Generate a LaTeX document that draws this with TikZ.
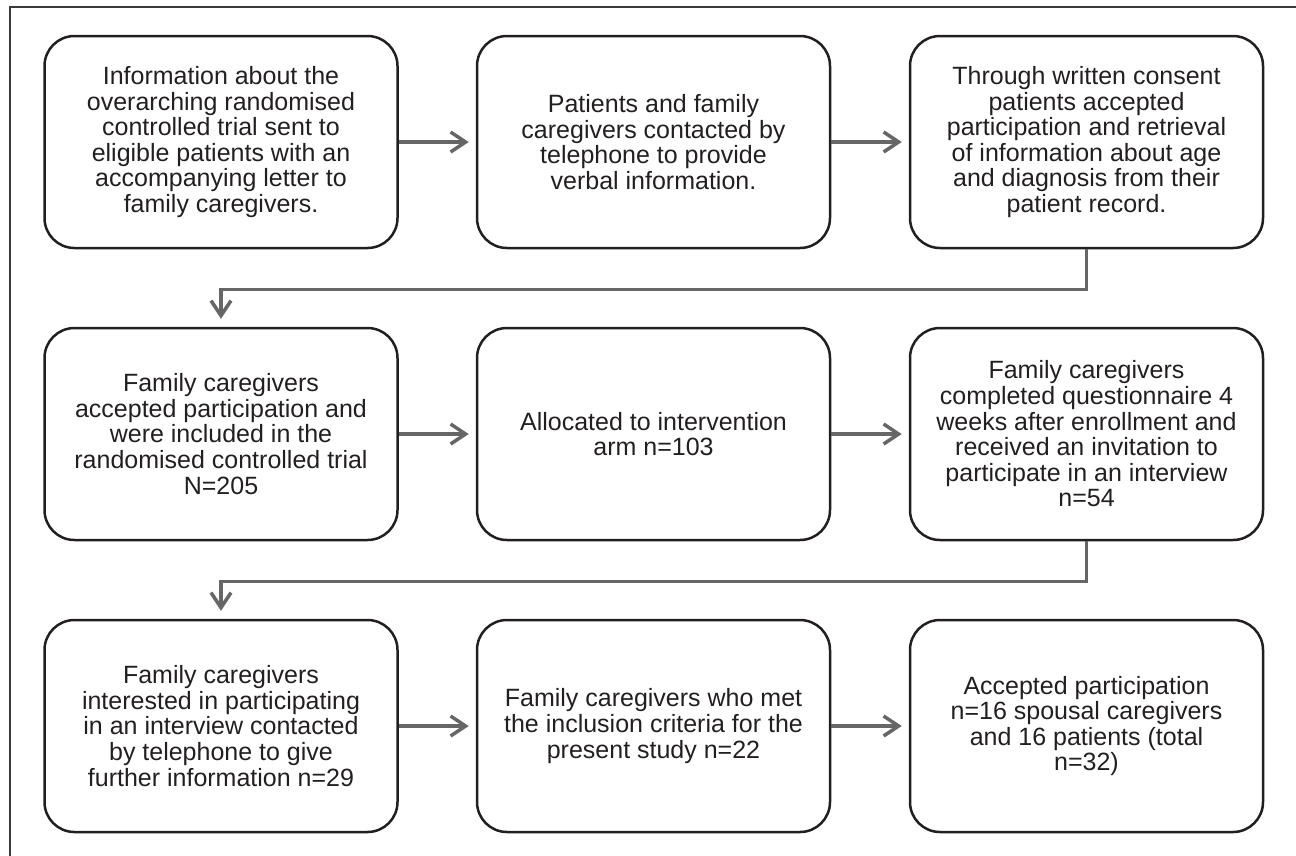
\documentclass[tikz,border=0pt]{standalone}
\usepackage{fontspec}
\setmainfont{Liberation Sans}
\usetikzlibrary{arrows.meta}
\definecolor{boxline}{HTML}{231F20}
\definecolor{arrowgrey}{HTML}{666666}
\definecolor{txt}{HTML}{231F20}
\definecolor{framegrey}{HTML}{3A3A3A}
\begin{document}
\begin{tikzpicture}[x=1pt,y=-1pt,
  flowbox/.style={draw=boxline, line width=2.5pt, rounded corners=30pt,
    minimum width=353pt, minimum height=212pt, align=center, text=txt,
    font=\fontsize{25}{25.6}\selectfont, inner sep=0pt},
  flowarrow/.style={draw=arrowgrey, line width=3.5pt,
    -{Straight Barb[length=15pt,width=20pt]}},
  hgap/.style={shorten >=7pt},
  vgap/.style={shorten >=8pt}]
\useasboundingbox (0,0) rectangle (1296,855);
% outer frame
\draw[framegrey, line width=1.5pt] (10,860) -- (10,7) -- (1300,7);

\node[flowbox] (b1) at (221,142) {Information about the\\overarching randomised\\controlled trial sent to\\eligible patients with an\\accompanying letter to\\family caregivers.};
\node[flowbox] (b2) at (653.5,142) {Patients and family\\caregivers contacted by\\telephone to provide\\verbal information.};
\node[flowbox] (b3) at (1086.5,142) {Through written consent\\patients accepted\\participation and retrieval\\of information about age\\and diagnosis from their\\patient record.};

\node[flowbox] (b4) at (221,434) {Family caregivers\\accepted participation and\\were included in the\\randomised controlled trial\\N=205};
\node[flowbox] (b5) at (653.5,434) {Allocated to intervention\\arm n=103};
\node[flowbox] (b6) at (1086.5,434) {Family caregivers\\completed questionnaire 4\\weeks after enrollment and\\received an invitation to\\participate in an interview\\n=54};

\node[flowbox] (b7) at (221,726) {Family caregivers\\interested in participating\\in an interview contacted\\by telephone to give\\further information n=29};
\node[flowbox] (b8) at (653.5,726) {Family caregivers who met\\the inclusion criteria for the\\present study n=22};
\node[flowbox] (b9) at (1086.5,726) {Accepted participation\\n=16 spousal caregivers\\and 16 patients (total\\n=32)};

\draw[flowarrow, hgap] (b1.east) -- (b2.west);
\draw[flowarrow, hgap] (b2.east) -- (b3.west);
\draw[flowarrow, vgap] (b3.south) -- ++(0,40) -| (b4.north);

\draw[flowarrow, hgap] (b4.east) -- (b5.west);
\draw[flowarrow, hgap] (b5.east) -- (b6.west);
\draw[flowarrow, vgap] (b6.south) -- ++(0,40) -| (b7.north);

\draw[flowarrow, hgap] (b7.east) -- (b8.west);
\draw[flowarrow, hgap] (b8.east) -- (b9.west);
\end{tikzpicture}
\end{document}
